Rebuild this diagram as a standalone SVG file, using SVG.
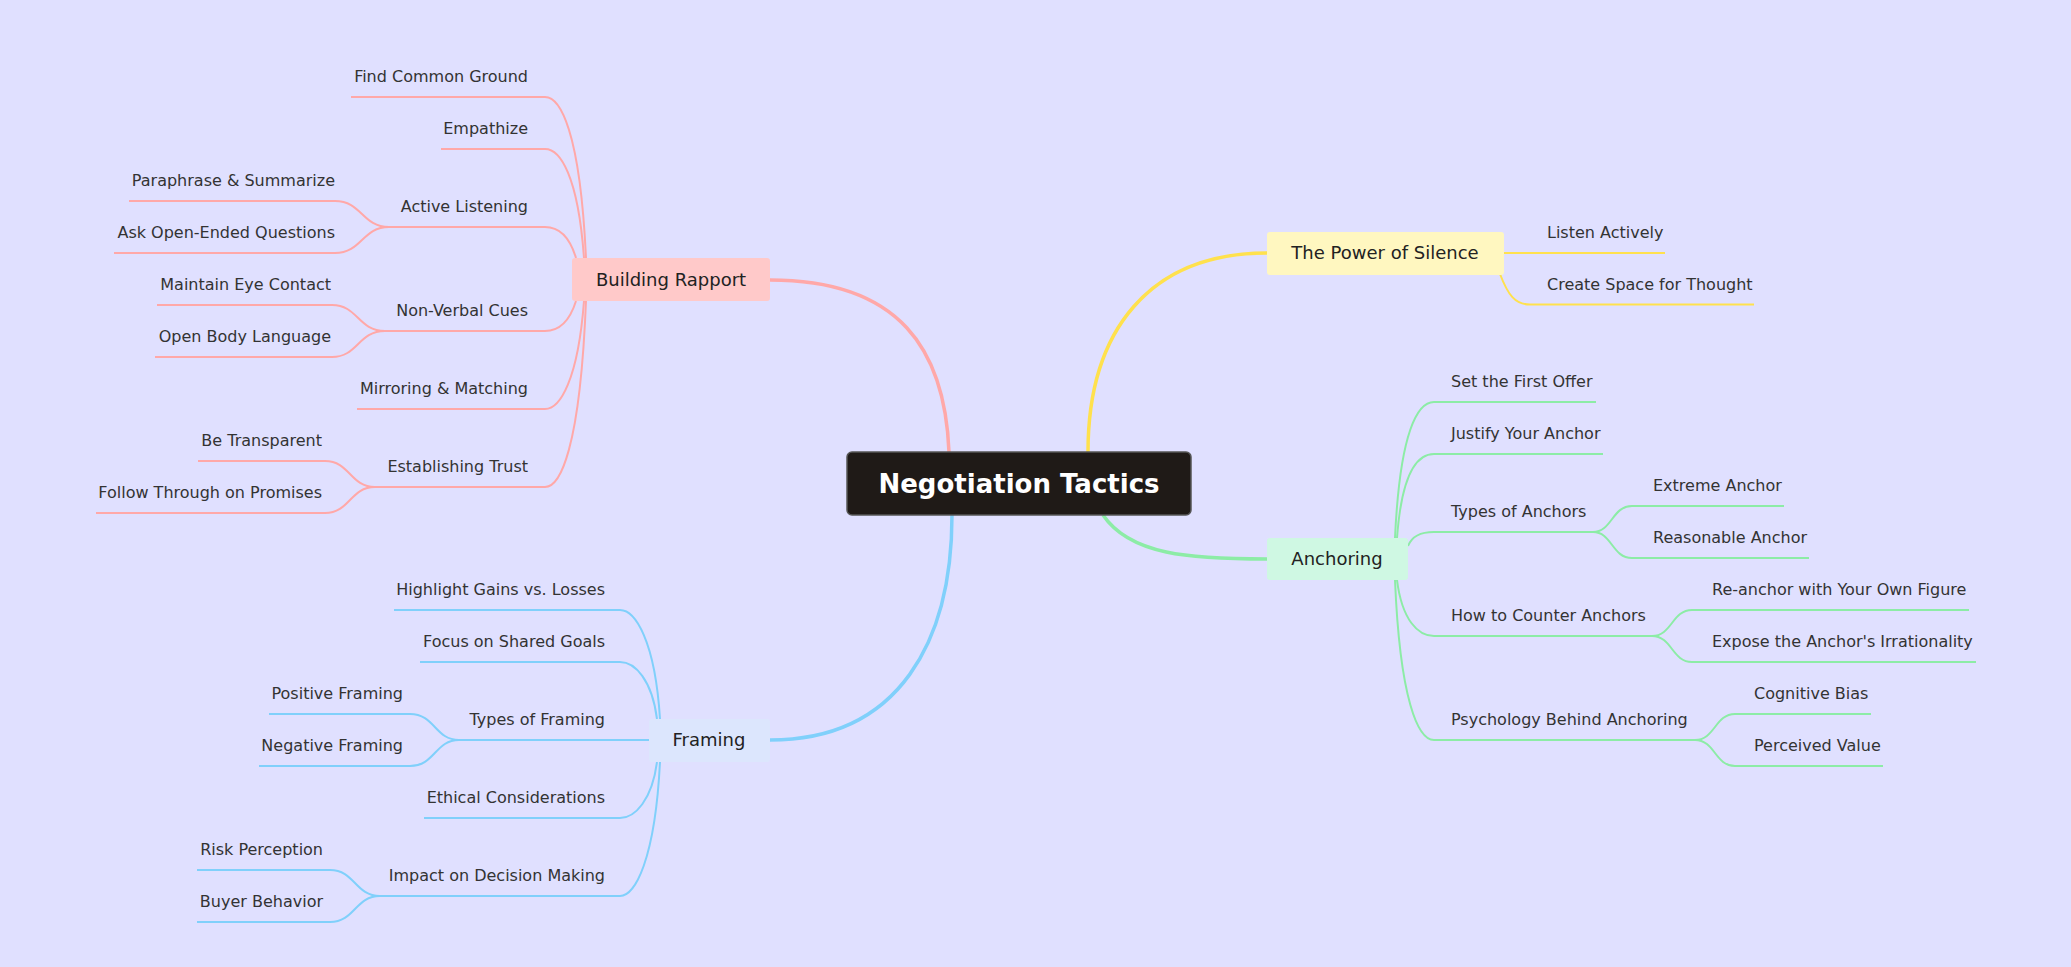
<svg xmlns="http://www.w3.org/2000/svg" width="2071" height="967" viewBox="0 0 2071 967">
<style>
text{font-family:"DejaVu Sans",sans-serif;font-size:16px;fill:#333}
.n{font-size:18px;fill:#222;text-anchor:middle}
.e{text-anchor:end}
path{fill:none;stroke-width:2}
.r{stroke:#ffa8a8}.y{stroke:#ffe14d}.g{stroke:#8ceca6}.b{stroke:#80d0fb}
.m{stroke-width:3.5}
</style>
<rect width="2071" height="967" fill="#e0e0ff"/>
<g id="connectors">
<path class="r m" d="M770 280 C900 280 945 350 949 452"/>
<path class="b m" d="M770 740 C900 740 952 640 952 515"/>
<path class="y m" d="M1088 452 C1088 330 1150 253 1267 253"/>
<path class="g m" d="M1103 515 C1130 555 1190 559 1267 559"/>
<path class="r" d="M351 97 H545 C560 97 580 130 586 258"/>
<path class="r" d="M441 149 H545 C560 149 578 175 584 258"/>
<path class="r" d="M389 227 H545 C560 227 570 238 576 258"/>
<path class="r" d="M385 331 H545 C560 331 570 320 576 301"/>
<path class="r" d="M357 409 H545 C560 409 578 380 584 301"/>
<path class="r" d="M375 487 H545 C560 487 580 450 586 301"/>
<path class="r" d="M129 201 H335 C362 201 362 227 389 227"/>
<path class="r" d="M114 253 H335 C362 253 362 227 389 227"/>
<path class="r" d="M157 305 H332 C358 305 358 331 385 331"/>
<path class="r" d="M155 357 H332 C358 357 358 331 385 331"/>
<path class="r" d="M198 461 H325 C350 461 350 487 375 487"/>
<path class="r" d="M96 513 H325 C350 513 350 487 375 487"/>
<path class="y" d="M1504 253 H1665"/>
<path class="y" d="M1500 274 C1508 295 1515 304.5 1530 304.5 H1754"/>
<path class="g" d="M1596 402 H1434 C1418 402 1400 430 1395 538"/>
<path class="g" d="M1603 454 H1434 C1418 454 1402 470 1397 538"/>
<path class="g" d="M1593 532 H1434 C1420 532 1412 536 1408 546"/>
<path class="g" d="M1652 636 H1434 C1418 636 1402 620 1397 580"/>
<path class="g" d="M1695 740 H1434 C1418 740 1400 700 1395 580"/>
<path class="g" d="M1593 532 C1612 532 1612 506 1632 506 H1784"/>
<path class="g" d="M1593 532 C1612 532 1612 558 1632 558 H1809"/>
<path class="g" d="M1652 636 C1672 636 1672 610 1692 610 H1969"/>
<path class="g" d="M1652 636 C1672 636 1672 662 1692 662 H1976"/>
<path class="g" d="M1695 740 C1715 740 1715 714 1735 714 H1871"/>
<path class="g" d="M1695 740 C1715 740 1715 766 1735 766 H1883"/>
<path class="b" d="M394 610 H620 C635 610 655 640 660 719"/>
<path class="b" d="M420 662 H620 C635 662 652 680 657 719"/>
<path class="b" d="M459 740 H649"/>
<path class="b" d="M424 818 H620 C635 818 652 800 657 762"/>
<path class="b" d="M380 896 H620 C635 896 655 860 660 762"/>
<path class="b" d="M269 714 H410 C435 714 435 740 459 740"/>
<path class="b" d="M259 766 H410 C435 766 435 740 459 740"/>
<path class="b" d="M197 870 H330 C355 870 355 896 380 896"/>
<path class="b" d="M197 922 H330 C355 922 355 896 380 896"/>
</g>
<g id="center"><rect x="847" y="452" width="344" height="63" rx="5" fill="#1f1a17" stroke="#555" stroke-width="1.5"/><text x="1019" y="493" style="font-size:26px;font-weight:bold;fill:#fff;text-anchor:middle">Negotiation Tactics</text></g>
<g id="rapport"><rect x="572" y="258" width="198" height="43" rx="3" fill="#ffc9c9"/><text class="n" x="671" y="286">Building Rapport</text></g>
<g id="silence"><rect x="1267" y="232" width="237" height="43" rx="3" fill="#fff7c0"/><text class="n" x="1385" y="259">The Power of Silence</text></g>
<g id="anchoring"><rect x="1267" y="538" width="141" height="42" rx="3" fill="#cff8e3"/><text class="n" x="1337" y="565">Anchoring</text></g>
<g id="framing"><rect x="649" y="719" width="121" height="43" rx="3" fill="#dce6fd"/><text class="n" x="709" y="746">Framing</text></g>
<g id="leaves">
<text class="e" x="528" y="82">Find Common Ground</text>
<text class="e" x="528" y="134">Empathize</text>
<text class="e" x="528" y="212">Active Listening</text>
<text class="e" x="528" y="316">Non-Verbal Cues</text>
<text class="e" x="528" y="394">Mirroring &amp; Matching</text>
<text class="e" x="528" y="472">Establishing Trust</text>
<text class="e" x="335" y="186">Paraphrase &amp; Summarize</text>
<text class="e" x="335" y="238">Ask Open-Ended Questions</text>
<text class="e" x="331" y="290">Maintain Eye Contact</text>
<text class="e" x="331" y="342">Open Body Language</text>
<text class="e" x="322" y="446">Be Transparent</text>
<text class="e" x="322" y="498">Follow Through on Promises</text>
<text x="1547" y="238">Listen Actively</text>
<text x="1547" y="290">Create Space for Thought</text>
<text x="1451" y="387">Set the First Offer</text>
<text x="1451" y="439">Justify Your Anchor</text>
<text x="1451" y="517">Types of Anchors</text>
<text x="1451" y="621">How to Counter Anchors</text>
<text x="1451" y="725">Psychology Behind Anchoring</text>
<text x="1653" y="491">Extreme Anchor</text>
<text x="1653" y="543">Reasonable Anchor</text>
<text x="1712" y="595">Re-anchor with Your Own Figure</text>
<text x="1712" y="647">Expose the Anchor's Irrationality</text>
<text x="1754" y="699">Cognitive Bias</text>
<text x="1754" y="751">Perceived Value</text>
<text class="e" x="605" y="595">Highlight Gains vs. Losses</text>
<text class="e" x="605" y="647">Focus on Shared Goals</text>
<text class="e" x="605" y="725">Types of Framing</text>
<text class="e" x="605" y="803">Ethical Considerations</text>
<text class="e" x="605" y="881">Impact on Decision Making</text>
<text class="e" x="403" y="699">Positive Framing</text>
<text class="e" x="403" y="751">Negative Framing</text>
<text class="e" x="323" y="855">Risk Perception</text>
<text class="e" x="323" y="907">Buyer Behavior</text>
</g>
</svg>
